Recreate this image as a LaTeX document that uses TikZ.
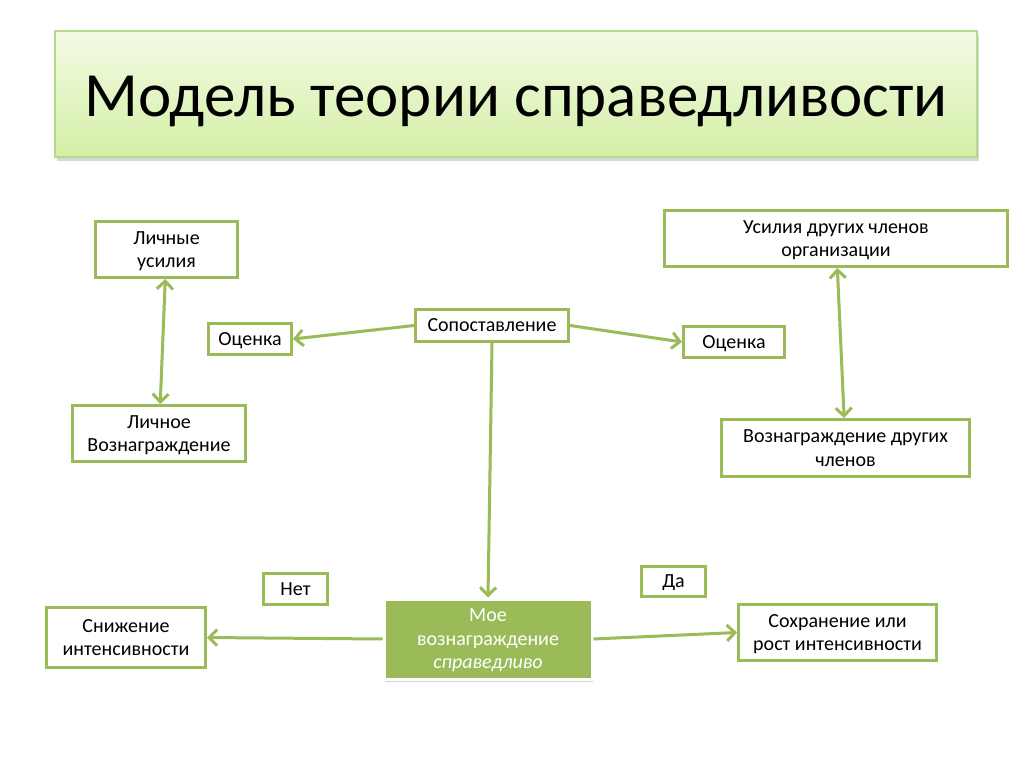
\documentclass[tikz,border=0pt]{standalone}
\usepackage{fontspec}
\setmainfont{Carlito}
\usetikzlibrary{arrows.meta,shadows}
\definecolor{grn}{RGB}{155,187,89}
\definecolor{ttop}{RGB}{243,251,228}
\definecolor{tbot}{RGB}{212,239,166}
\definecolor{tline}{RGB}{182,215,140}
\tikzstyle{box}=[draw=grn, line width=3pt, fill=white, align=center, inner sep=2pt,
  text depth=-4pt, font=\fontsize{20}{23.5}\selectfont]
\tikzstyle{arr}=[draw=grn, line width=3pt, -{Straight Barb[length=8pt,width=16pt,line width=3pt]}]
\tikzstyle{darr}=[draw=grn, line width=3pt, {Straight Barb[length=8pt,width=16pt,line width=3pt]}-{Straight Barb[length=8pt,width=16pt,line width=3pt]}]

\begin{document}
\begin{tikzpicture}[x=1pt,y=-1pt]
\fill [white] (0,0) rectangle (1024,767);
\useasboundingbox (0,0) rectangle (1024,767);
\node [draw=tline, line width=2pt, top color=ttop, bottom color=tbot,
  minimum width=922pt, minimum height=126pt, text height=56pt,
  drop shadow={shadow xshift=2pt, shadow yshift=-4pt, opacity=0.3},
  font=\fontsize{63}{70}\selectfont] (title) at (516,94) {Модель теории справедливости};
\node [box, minimum width=142pt, minimum height=56pt] (lichUs) at (166.5,249.5) {Личные\\усилия};
\node [box, minimum width=173pt, minimum height=56pt] (lichVozn) at (159,433.5) {Личное\\Вознаграждение};
\node [box, minimum width=83pt, minimum height=31pt] (ocenL) at (250,339) {Оценка};
\node [box, minimum width=153pt, minimum height=32pt] (sopost) at (492,325.5) {Сопоставление};
\node [box, minimum width=101pt, minimum height=31pt] (ocenR) at (734,342) {Оценка};
\node [box, minimum width=343pt, minimum height=56pt] (usilDr) at (836,238.5) {Усилия других членов\\организации};
\node [box, minimum width=248pt, minimum height=57pt] (voznDr) at (845.5,448) {Вознаграждение других\\членов};
\node [box, minimum width=64pt, minimum height=31pt] (net) at (295.5,589) {Нет};
\node [box, minimum width=159pt, minimum height=60pt] (snizh) at (126,637.5) {Снижение\\интенсивности};
\node [box, minimum width=64pt, minimum height=30pt] (da) at (673.5,581.5) {Да};
\node [box, minimum width=198pt, minimum height=56pt] (sohr) at (837.5,632.5) {Сохранение или\\рост интенсивности};
\node [box, draw=white, fill=grn, text=white, minimum width=208pt, minimum height=80pt,
  drop shadow={shadow xshift=1pt, shadow yshift=-3pt, opacity=0.35}] (moe) at (488,639)
  {Мое\\вознаграждение\\\textit{справедливо}};
\draw [darr] (lichUs) -- (lichVozn);
\draw [darr] (usilDr) -- (voznDr);
\draw [arr] (sopost.west) -- (ocenL.east);
\draw [arr] (sopost.east) -- (ocenR.west);
\draw [arr] (sopost.south) -- (moe.north);
\draw [arr] (moe.west) -- (snizh.east);
\draw [arr] (moe.east) -- (sohr.west);
\end{tikzpicture}
\end{document}
